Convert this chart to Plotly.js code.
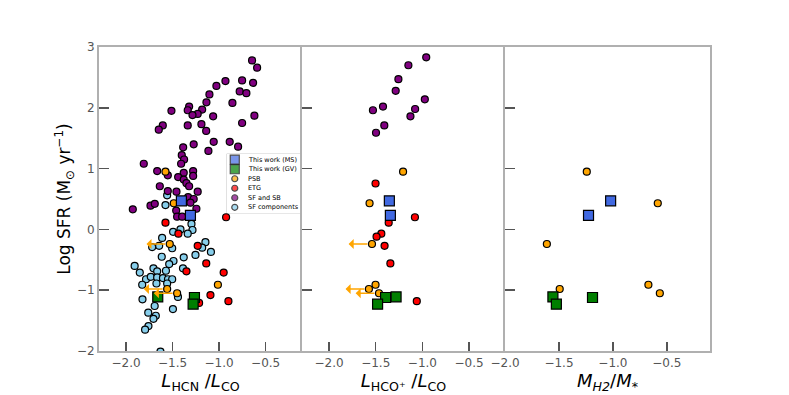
<!DOCTYPE html>
<html>
<head>
<meta charset="utf-8">
<script src="https://cdn.plot.ly/plotly-3.0.1.min.js"></script>
<style>
  body { margin: 0; background: #fff; }
  #plot { width: 789px; height: 395px; }
</style>
</head>
<body>
<div id="plot"></div>
<script>
// ---- data ----
// This work (MS)
var msY = [0.47, 0.23];
var msHcnX = [-1.405, -1.308];
var msHcopX = [-1.354, -1.343];
var msMassX = [-1.021, -1.226];

// This work (GV)
var gvY = [-1.11, -1.12, -1.23];
var gvHcnX = [-1.659, -1.265, -1.279];
var gvHcopX = [-1.282, -1.394, -1.480];
var gvMassX = [-1.556, -1.189, -1.524];

// PSB (upper limits flagged)
var psbY = [0.95, 0.43, -0.24, -0.91, -0.98, -1.05];
var psbHcnX = [-1.576, -1.487, -1.530, -1.013, -1.558, -1.451];
var psbHcopX = [-1.207, -1.566, -1.540, -1.502, -1.573, -1.465];
var psbMassX = [-1.242, -0.584, -1.612, -0.671, -1.493, -0.565];
var psbUpperLimit = [false, false, true, false, true, true];

// ETG
var etgHcnX = [-0.925, -1.576, -1.437, -1.230, -1.138, -1.351, -0.951, -1.093, -0.900, -1.215];
var etgHcnY = [0.20, 0.11, -0.07, -0.27, -0.56, -0.69, -0.71, -1.08, -1.18, -1.21];
var etgHcopX = [-1.502, -1.080, -1.361, -1.440, -1.491, -1.405, -1.343, -1.060];
var etgHcopY = [0.755, 0.20, 0.11, -0.07, -0.12, -0.27, -0.56, -1.18];

// SF and SB
var sfsbHcnX = [-0.646, -0.592, -0.932, -0.753, -0.635, -1.029, -0.779, -0.707, -1.104, -1.136,
  -0.857, -1.512, -1.322, -1.337, -1.182, -1.230, -1.286, -1.064, -0.621, -1.605,
  -1.648, -1.337, -1.190, -1.139, -0.753, -1.386, -1.273, -1.058, -0.886, -0.796,
  -1.115, -1.401, -1.376, -1.408, -1.809, -1.665, -1.551, -1.380, -1.279, -1.279,
  -1.440, -1.380, -1.351, -1.322, -1.637, -1.458, -1.230, -1.551, -1.333, -1.273,
  -1.927, -1.737, -1.691, -1.308, -1.244, -1.461, -1.451, -1.397];
var sfsbHcnY = [2.78, 2.66, 2.44, 2.45, 2.41, 2.36, 2.27, 2.24, 2.22, 2.09,
  2.08, 1.95, 2.02, 1.96, 1.97, 1.90, 1.88, 1.86, 1.87, 1.71,
  1.64, 1.71, 1.73, 1.62, 1.75, 1.35, 1.40, 1.44, 1.44, 1.36,
  1.29, 1.22, 1.15, 1.08, 1.08, 0.96, 0.89, 0.93, 0.96, 0.88,
  0.86, 0.82, 0.76, 0.71, 0.71, 0.62, 0.62, 0.63, 0.53, 0.50,
  0.33, 0.39, 0.42, 0.44, 0.34, 0.31, 0.21, 0.21];
var sfsbHcopX = [-0.959, -1.150, -1.257, -1.286, -0.974, -1.422, -1.530, -1.078, -1.128, -1.408, -1.497];
var sfsbHcopY = [2.83, 2.70, 2.47, 2.28, 2.14, 2.02, 1.96, 1.98, 1.86, 1.71, 1.59];

// SF components
var sfcHcnX = [-1.558, -1.576, -1.297, -1.286, -1.415, -1.494, -1.337, -1.612, -1.719, -1.644,
  -1.504, -1.147, -1.182, -1.088, -1.254, -1.380, -1.616, -1.490, -1.536, -1.907,
  -1.852, -1.705, -1.665, -1.571, -1.388, -1.785, -1.734, -1.665, -1.603, -1.549,
  -1.504, -1.826, -1.673, -1.558, -1.442, -1.823, -1.692, -1.496, -1.761, -1.680,
  -1.705, -1.759, -1.795, -1.630];
var sfcHcnY = [0.56, 0.40, 0.09, -0.01, 0.00, -0.04, -0.07, -0.14, -0.29, -0.27,
  -0.31, -0.21, -0.30, -0.37, -0.42, -0.46, -0.45, -0.52, -0.57, -0.60,
  -0.71, -0.64, -0.69, -0.68, -0.64, -0.82, -0.78, -0.79, -0.80, -0.82,
  -0.82, -0.91, -0.89, -0.89, -1.11, -1.15, -1.26, -1.31, -1.37, -1.42,
  -1.47, -1.59, -1.65, -2.01];

var legendLabels = ['This work (MS)', 'This work (GV)', 'PSB', 'ETG', 'SF and SB', 'SF components'];
var tickVals = [-2.0, -1.5, -1.0, -0.5];
var tickText = ['\u22122.0', '\u22121.5', '\u22121.0', '\u22120.5'];
var yTickVals = [-2, -1, 0, 1, 2, 3];
var yTickText = ['\u22122', '\u22121', '0', '1', '2', '3'];

// ---- styles ----
var edge = { color: 'black', width: 1.2 };
var styles = {
  ms: { symbol: 'square', size: 10, color: '#4169e1', line: edge },
  gv: { symbol: 'square', size: 10, color: '#007f00', line: edge },
  psb: { symbol: 'circle', size: 7, color: 'orange', line: edge },
  etg: { symbol: 'circle', size: 7, color: 'red', line: edge },
  sfsb: { symbol: 'circle', size: 7, color: 'purple', line: edge },
  sfc: { symbol: 'circle', size: 7, color: 'skyblue', line: edge }
};

function pts(x, y, st, panel) {
  var suffix = panel === 1 ? '' : String(panel);
  return {
    x: x, y: y, type: 'scatter', mode: 'markers',
    marker: st, xaxis: 'x' + suffix, yaxis: 'y' + suffix,
    showlegend: false, hoverinfo: 'skip'
  };
}

var data = [
  pts(sfcHcnX, sfcHcnY, styles.sfc, 1),
  pts(sfsbHcnX, sfsbHcnY, styles.sfsb, 1),
  pts(etgHcnX, etgHcnY, styles.etg, 1),
  pts(psbHcnX, psbY, styles.psb, 1),
  pts(msHcnX, msY, styles.ms, 1),
  pts(gvHcnX, gvY, styles.gv, 1),

  pts(sfsbHcopX, sfsbHcopY, styles.sfsb, 2),
  pts(etgHcopX, etgHcopY, styles.etg, 2),
  pts(psbHcopX, psbY, styles.psb, 2),
  pts(msHcopX, msY, styles.ms, 2),
  pts(gvHcopX, gvY, styles.gv, 2),

  pts(psbMassX, psbY, styles.psb, 3),
  pts(msMassX, msY, styles.ms, 3),
  pts(gvMassX, gvY, styles.gv, 3)
];

// hand-made legend (Plotly's legend rows are too tall for this size)
var legendStyles = [styles.ms, styles.gv, styles.psb, styles.etg, styles.sfsb, styles.sfc];
var legendRows = legendLabels.map(function (_, i) { return i; });
data.push({
  x: legendRows.map(function () { return 0.11; }),
  y: legendRows,
  type: 'scatter', mode: 'markers', xaxis: 'x4', yaxis: 'y4',
  showlegend: false, hoverinfo: 'skip',
  marker: {
    symbol: legendStyles.map(function (s) { return s.symbol; }),
    size: legendStyles.map(function (s) { return s.symbol === 'square' ? 9 : 6; }),
    color: legendStyles.map(function (s) { return s.color; }),
    line: edge
  }
});

var annotations = legendLabels.map(function (lab, i) {
  return {
    xref: 'x4', yref: 'y4', x: 0.27, y: i, text: lab, showarrow: false,
    xanchor: 'left', yanchor: 'middle',
    font: { family: 'DejaVu Sans', size: 6.5, color: 'black' }
  };
});

// upper-limit arrows for PSB points (panels 1 and 2)
var arrowLen = 0.25;
[[psbHcnX, 'x', 'y'], [psbHcopX, 'x2', 'y2']].forEach(function (p) {
  psbUpperLimit.forEach(function (lim, i) {
    if (!lim) return;
    annotations.push({
      xref: p[1], yref: p[2], axref: p[1], ayref: p[2],
      x: p[0][i] - arrowLen, y: psbY[i], ax: p[0][i], ay: psbY[i],
      text: '', showarrow: true, arrowhead: 1, arrowsize: 1.2, arrowwidth: 1.4,
      arrowcolor: 'orange', startstandoff: 3
    });
  });
});

var frame = '#b0b0b0';
function xAxis(domain, range, title) {
  return {
    domain: domain, range: range, tickvals: tickVals, ticktext: tickText,
    ticks: 'inside', ticklen: 9, tickwidth: 1.5, tickcolor: '#555',
    showline: true, linecolor: frame, linewidth: 2, mirror: true,
    showgrid: false, zeroline: false,
    tickfont: { family: 'DejaVu Sans', size: 12, color: '#555' },
    title: { text: title, font: { family: 'DejaVu Sans', size: 18, color: 'black' }, standoff: 4 }
  };
}
function yAxis(anchor, labels, mirror) {
  return {
    anchor: anchor, domain: [0, 1], range: [-2, 3],
    tickvals: yTickVals, ticktext: yTickText, showticklabels: labels,
    ticks: 'inside', ticklen: 10, tickwidth: 1.5, tickcolor: '#555',
    showline: true, linecolor: frame, linewidth: 2, mirror: mirror,
    showgrid: false, zeroline: false,
    tickfont: { family: 'DejaVu Sans', size: 12, color: '#555' }
  };
}

var yMain = yAxis('x', true, false);
yMain.title = {
  text: 'Log SFR (M<sub>\u2299</sub> yr<sup>\u22121</sup>)',
  font: { family: 'DejaVu Sans', size: 17, color: 'black' }, standoff: 2
};

var layout = {
  width: 789, height: 395,
  margin: { l: 99, r: 79, t: 47, b: 44 },
  paper_bgcolor: 'white', plot_bgcolor: 'white',
  showlegend: false,
  xaxis: xAxis([0, 0.3322], [-2.29, -0.11], '<i>L</i><sub>HCN</sub> /<i>L</i><sub>CO</sub>'),
  xaxis2: xAxis([0.3322, 0.6645], [-2.29, -0.115], '<i>L</i><sub>HCO\u207A</sub> /<i>L</i><sub>CO</sub>'),
  xaxis3: xAxis([0.6645, 1], [-2.0, -0.1], '<i>M</i><sub><i>H2</i></sub>/<i>M</i><sub>*</sub>'),
  yaxis: yMain,
  yaxis2: yAxis('x2', false, false),
  yaxis3: yAxis('x3', false, true),
  xaxis4: { domain: [0.209, 0.329], range: [0, 1], visible: false, anchor: 'y4' },
  yaxis4: { domain: [0.454, 0.648], range: [5.6, -0.6], visible: false, anchor: 'x4' },
  shapes: [{
    type: 'rect', xref: 'paper', yref: 'paper', layer: 'below',
    x0: 0.209, x1: 0.329, y0: 0.454, y1: 0.648,
    line: { color: '#cccccc', width: 1 }, fillcolor: 'white'
  }],
  annotations: annotations
};

Plotly.newPlot('plot', data, layout, { staticPlot: true });
</script>
</body>
</html>
